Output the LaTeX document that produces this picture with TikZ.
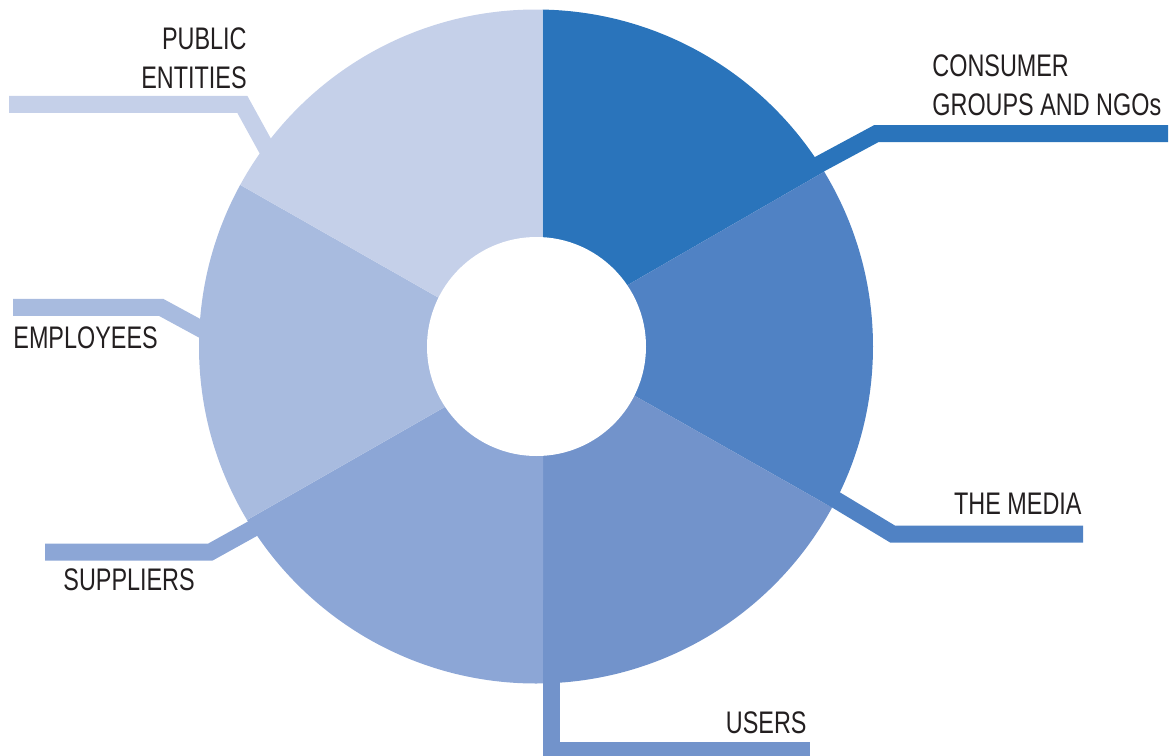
\documentclass[tikz,border=0pt]{standalone}
\usepackage{fontspec}
\setmainfont{Liberation Sans}[FakeStretch=0.75]
\usepackage{tikz}

\definecolor{consumer}{HTML}{2A74BB}
\definecolor{media}{HTML}{5082C4}
\definecolor{users}{HTML}{7293CB}
\definecolor{suppliers}{HTML}{8CA6D6}
\definecolor{employees}{HTML}{A8BBDF}
\definecolor{public}{HTML}{C5D0E9}
\definecolor{labeltext}{HTML}{231F20}

\begin{document}
\begin{tikzpicture}[x=0.5pt,y=-0.5pt,
    lead/.style={line width=8.5pt},
    lbl/.style={inner sep=0,font=\fontsize{15.6}{19.5}\selectfont,text=labeltext}]
  \useasboundingbox (0,0) rectangle (1175,756);
  % ring segments
  \begin{scope}
    \clip (536,346.5) circle (337);
    \fill[consumer] (542.5,346) -- (542.5,-60) -- (900,-60) -- (900,128) -- (560,324) -- cycle;
    \fill[media] (560,324) -- (900,128) -- (900,546) -- (560,353.5) -- cycle;
    \fill[users] (560,353.5) -- (900,546) -- (900,760) -- (543,760) -- (543,346) -- cycle;
    \fill[suppliers] (543,346) -- (543,760) -- (170,760) -- (170,564) -- (520,364) -- cycle;
    \fill[employees] (520,364) -- (170,564) -- (170,145) -- (520,344) -- cycle;
    \fill[public] (520,344) -- (170,145) -- (170,-60) -- (542.5,-60) -- (542.5,346) -- cycle;
  \end{scope}
  \fill[white] (536.5,346.5) circle (109.5);
  % leader lines
  \coordinate (cg-in) at (805,172);
  \coordinate (cg-bend) at (876.5,133.5);
  \coordinate (cg-end) at (1168,133.5);
  \coordinate (md-in) at (802,479.4);
  \coordinate (md-bend) at (892.5,534);
  \coordinate (md-end) at (1083,534);
  \coordinate (us-in) at (551.5,600);
  \coordinate (us-bend) at (551.5,750);
  \coordinate (us-end) at (810,750);
  \coordinate (su-in) at (271.8,518);
  \coordinate (su-bend) at (210.5,552);
  \coordinate (su-end) at (45,552);
  \coordinate (em-in) at (231,345.3);
  \coordinate (em-bend) at (161,307.3);
  \coordinate (em-end) at (13,307.3);
  \coordinate (pu-in) at (285.6,183);
  \coordinate (pu-bend) at (242.3,104.3);
  \coordinate (pu-end) at (9,104.3);
  \draw[lead,consumer] (cg-in) -- (cg-bend) -- (cg-end);
  \draw[lead,media] (md-in) -- (md-bend) -- (md-end);
  \draw[lead,users] (us-in) -- (us-bend) -- (us-end);
  \draw[lead,suppliers] (su-in) -- (su-bend) -- (su-end);
  \draw[lead,employees] (em-in) -- (em-bend) -- (em-end);
  \draw[lead,public] (pu-in) -- (pu-bend) -- (pu-end);
  % labels
  \node[lbl,anchor=base west,align=left] (cg-label) at (932,115) {CONSUMER\\GROUPS AND NGOs};
  \node[lbl,anchor=base east] (md-label) at (1082,514) {THE MEDIA};
  \node[lbl,anchor=base east] (us-label) at (807,733) {USERS};
  \node[lbl,anchor=base west] (su-label) at (63,590) {SUPPLIERS};
  \node[lbl,anchor=base west] (em-label) at (13,348) {EMPLOYEES};
  \node[lbl,anchor=base east,align=right] (pu-label) at (247,88.3) {PUBLIC\\ENTITIES};
\end{tikzpicture}
\end{document}
